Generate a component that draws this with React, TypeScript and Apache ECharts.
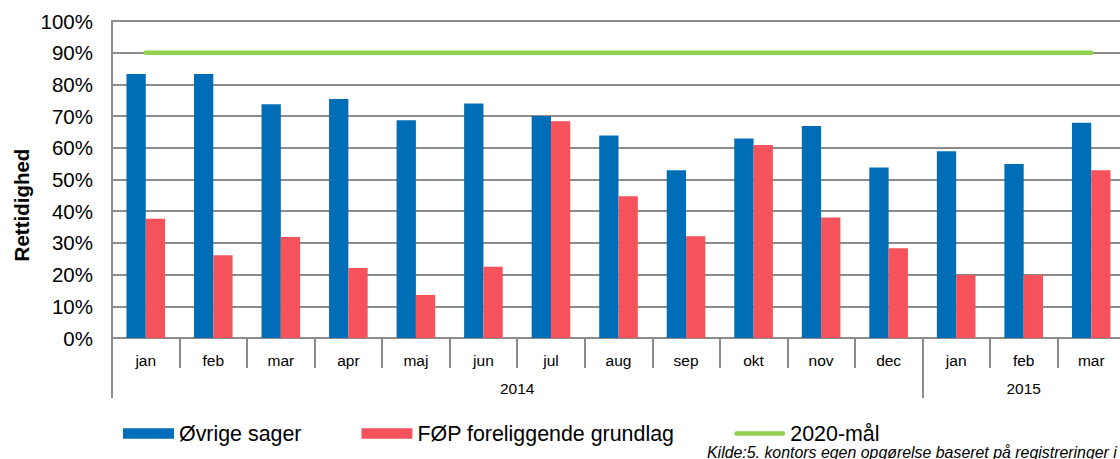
import React, { useEffect, useRef } from "react";
import * as echarts from "echarts";

const months = ["jan", "feb", "mar", "apr", "maj", "jun", "jul", "aug", "sep", "okt", "nov", "dec", "jan", "feb", "mar"];
const years = ["2014", "2015"];
const yearLabelPos = [6, 13.5];
const yearBoundaries = [0, 12, 15];
const ovrige = [83.3, 83.3, 73.7, 75.4, 68.7, 74.0, 70.0, 63.9, 52.9, 62.9, 66.9, 53.8, 58.9, 54.9, 67.9];
const fop = [37.6, 26.1, 31.9, 22.1, 13.6, 22.5, 68.4, 44.7, 32.1, 60.9, 38.0, 28.3, 19.9, 19.9, 52.9];
const goal = [90, 90, 90, 90, 90, 90, 90, 90, 90, 90, 90, 90, 90, 90, 90];
const yTicks = { min: 0, max: 100, interval: 10 };

const FONT = "'Liberation Sans', Arial, Helvetica, sans-serif";
const GRID = "#8c8c8c";
const LINE_ICON = "path://M4.5,0 H97.5 A4.5,4.5 0 0 1 97.5,9 H4.5 A4.5,4.5 0 0 1 4.5,0 Z";

export default function App() {
  const ref = useRef<HTMLDivElement>(null);
  useEffect(() => {
    document.body.style.margin = "0";
    document.body.style.overflow = "hidden";
    const chart = echarts.init(ref.current!, null, { renderer: "svg" });
    chart.setOption({
      animation: false,
      textStyle: { fontFamily: FONT, color: "#000" },
      grid: { left: 112, right: 0, top: 21, bottom: 121, containLabel: false },
      legend: {
        left: 123,
        top: 423,
        padding: 0,
        itemGap: 60,
        itemWidth: 51,
        itemHeight: 10.5,
        itemTextGap: 6,
        symbolKeepAspect: true,
        textStyle: { fontSize: 21.4, fontFamily: FONT, color: "#000" },
        data: [
          { name: "Øvrige sager", icon: "rect" },
          { name: "FØP foreliggende grundlag", icon: "rect" },
          { name: "2020-mål", icon: LINE_ICON, itemStyle: { color: "#92d050" } },
        ],
      },
      xAxis: [
        {
          type: "category",
          data: months,
          position: "bottom",
          axisLine: { lineStyle: { color: GRID, width: 2 } },
          axisTick: { show: true, interval: 0, length: 30, lineStyle: { color: GRID, width: 2 } },
          axisLabel: { interval: 0, fontSize: 15.5, margin: 14, color: "#000", fontFamily: FONT },
          splitLine: { show: false },
        },
        {
          type: "value",
          min: 0,
          max: 15,
          position: "bottom",
          offset: 30,
          axisLine: { show: false },
          splitLine: { show: false },
          axisTick: {
            show: true,
            length: 30,
            customValues: yearBoundaries,
            lineStyle: { color: GRID, width: 2 },
          },
          axisLabel: {
            show: true,
            customValues: yearLabelPos,
            fontSize: 15.5,
            margin: 12,
            color: "#000",
            fontFamily: FONT,
            formatter: (v: number) => years[yearLabelPos.indexOf(v)] ?? "",
          },
        },
      ],
      yAxis: {
        type: "value",
        min: yTicks.min,
        max: yTicks.max,
        interval: yTicks.interval,
        axisLine: { show: true, lineStyle: { color: GRID, width: 2 } },
        axisTick: { show: true, length: 0 },
        splitLine: { show: true, lineStyle: { color: GRID, width: 2 } },
        axisLabel: { fontSize: 20.5, margin: 19, color: "#000", fontFamily: FONT, formatter: (v: number) => v + "%" },
      },
      graphic: [
        {
          type: "text",
          x: 21,
          y: 205,
          rotation: Math.PI / 2,
          style: {
            text: "Rettidighed",
            font: `bold 20.5px ${FONT}`,
            fill: "#000",
            align: "center",
            verticalAlign: "middle",
          },
        },
        {
          type: "text",
          x: 707,
          y: 452,
          style: {
            text: "Kilde:5. kontors egen opgørelse baseret på registreringer i",
            font: `italic 15.9px ${FONT}`,
            fill: "#000",
            align: "left",
            verticalAlign: "middle",
          },
        },
      ],
      series: [
        {
          name: "Øvrige sager",
          type: "bar",
          data: ovrige,
          barWidth: 19.3,
          barGap: "0%",
          itemStyle: { color: "#006db7" },
        },
        {
          name: "FØP foreliggende grundlag",
          type: "bar",
          data: fop,
          barWidth: 19.3,
          barGap: "0%",
          itemStyle: { color: "#f5525c" },
        },
        {
          name: "2020-mål",
          type: "line",
          data: goal,
          symbol: "none",
          z: 5,
          lineStyle: { color: "#92d050", width: 4.5, cap: "round" },
          itemStyle: { color: "#92d050" },
        },
      ],
    });
    return () => chart.dispose();
  }, []);
  return <div ref={ref} style={{ position: "absolute", left: 0, top: 0, width: 1125, height: 459 }} />;
}
